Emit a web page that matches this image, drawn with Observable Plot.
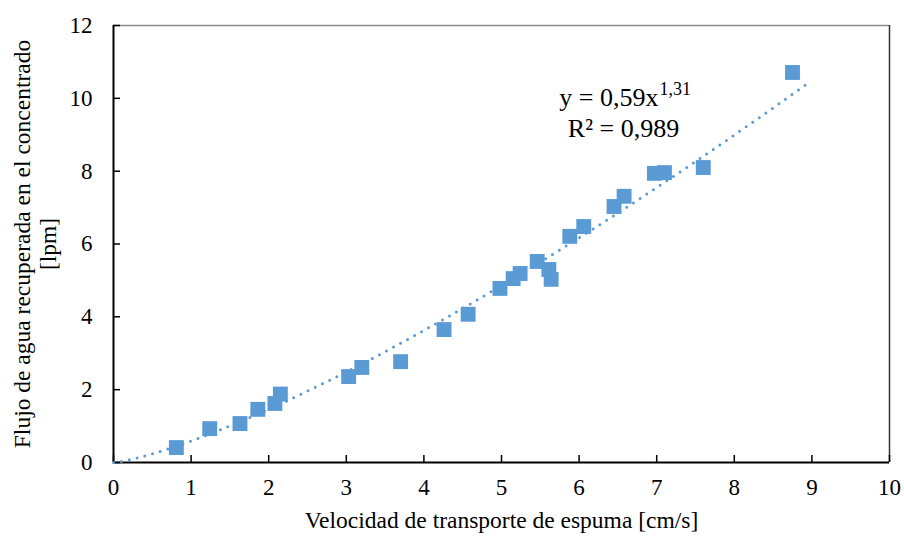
<!DOCTYPE html>
<html><head><meta charset="utf-8">
<script src="https://cdn.jsdelivr.net/npm/d3@7"></script>
<script src="https://cdn.jsdelivr.net/npm/@observablehq/plot@0.6"></script>
<style>body{margin:0;background:#fff} svg{display:block} svg, svg text{font-family:"Liberation Serif","Times New Roman",serif !important}</style>
</head><body><div id="chart"></div>
<script>
const velocidad = [0.81,1.24,1.63,1.86,2.08,2.15,3.03,3.20,3.70,4.26,4.57,4.98,5.15,5.24,5.46,5.61,5.64,5.88,6.06,6.45,6.58,6.97,7.10,7.60,8.75];
const flujo     = [0.41,0.93,1.07,1.46,1.62,1.88,2.36,2.61,2.77,3.65,4.07,4.78,5.05,5.19,5.52,5.30,5.03,6.21,6.48,7.03,7.31,7.94,7.96,8.10,10.71];
const xTicks = [0,1,2,3,4,5,6,7,8,9,10];
const yTicks = [0,2,4,6,8,10,12];
const fitCoef = 0.59, fitExp = 1.31, fitXMax = 8.95;
const xTitle = "Velocidad de transporte de espuma [cm/s]";
const yTitle1 = "Flujo de agua recuperada en el concentrado";
const yTitle2 = "[lpm]";
const eqMain = "y = 0,59x", eqExp = "1,31", eqR2 = "R² = 0,989";

const points = velocidad.map((v, i) => ({x: v, y: flujo[i]}));
const fit = d3.range(0, fitXMax + 1e-9, 0.05).map(x => ({x, y: fitCoef * Math.pow(x, fitExp)}));
const blue = "#5B9BD5";
const font = "Liberation Serif";

const chart = Plot.plot({
  width: 904, height: 537,
  marginLeft: 113, marginRight: 15, marginTop: 25, marginBottom: 75,
  style: {fontFamily: font, background: "#fff", color: "#000"},
  x: {domain: [0, 10]},
  y: {domain: [0, 12]},
  marks: [
    Plot.ruleY([yTicks[yTicks.length-1]], {stroke: "#8c8c8c", strokeWidth: 1.5}),
    Plot.ruleX([xTicks[xTicks.length-1]], {stroke: "#333", strokeWidth: 1.5}),
    Plot.ruleY([0], {stroke: "#000", strokeWidth: 2}),
    Plot.ruleX([0], {stroke: "#000", strokeWidth: 2}),
    Plot.axisY({ticks: yTicks, tickSize: 7, dx: 7, tickFormat: () => "", stroke: "#000", strokeWidth: 1.5, label: null}),
    Plot.axisX({ticks: xTicks, tickSize: 7, dy: -7, tickFormat: () => "", stroke: "#000", strokeWidth: 1.5, label: null}),
    Plot.axisY({ticks: yTicks, tickSize: 0, tickPadding: 21, fontSize: 23, label: null}),
    Plot.axisX({ticks: xTicks, tickSize: 0, tickPadding: 16, fontSize: 23, label: null}),
    Plot.dot(points, {x: "x", y: "y", symbol: "square", r: 8.4, fill: blue, stroke: "none"}),
    Plot.line(fit, {x: "x", y: "y", stroke: blue, strokeWidth: 3, strokeDasharray: "0 8", strokeLinecap: "round"}),
    Plot.text([eqMain], {frameAnchor: "top-left", dx: 545, dy: 62, textAnchor: "end", fontSize: 26, text: d => d}),
    Plot.text([eqExp], {frameAnchor: "top-left", dx: 546, dy: 57, textAnchor: "start", fontSize: 18, text: d => d}),
    Plot.text([eqR2], {frameAnchor: "top-left", dx: 510, dy: 93, textAnchor: "middle", fontSize: 26, text: d => d}),
    Plot.text([xTitle], {frameAnchor: "bottom", dy: 65, textAnchor: "middle", fontSize: 23.5, text: d => d}),
    Plot.text([yTitle1], {frameAnchor: "left", dx: -91, rotate: -90, textAnchor: "middle", lineAnchor: "middle", fontSize: 23.5, text: d => d}),
    Plot.text([yTitle2], {frameAnchor: "left", dx: -65, rotate: -90, textAnchor: "middle", lineAnchor: "middle", fontSize: 23.5, text: d => d})
  ]
});
document.getElementById("chart").appendChild(chart);
</script>
</body></html>
